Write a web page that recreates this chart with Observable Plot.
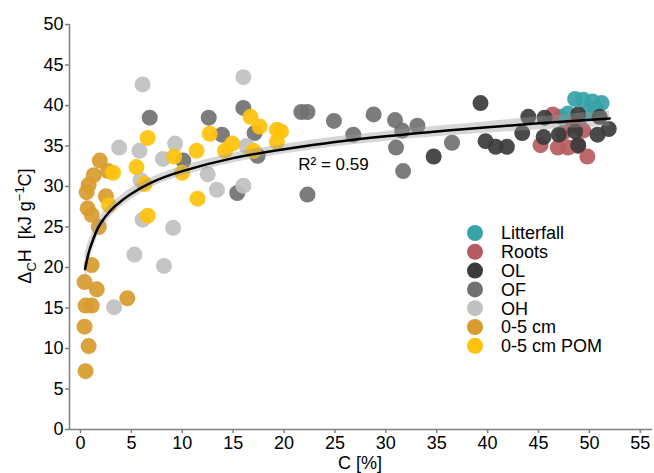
<!DOCTYPE html>
<html><head><meta charset="utf-8">
<script src="https://cdn.jsdelivr.net/npm/d3@7"></script>
<script src="https://cdn.jsdelivr.net/npm/@observablehq/plot@0.6"></script>
<style>body{margin:0;background:#fff;font-family:"Liberation Sans",Arial,sans-serif}</style>
</head><body><div id="chart"></div>
<script>
const groups = ["Litterfall","Roots","OL","OF","OH","0-5 cm","0-5 cm POM"];
const colors = ["#36A3A8","#B65B61","#3B3B3B","#717171","#C0C0C0","#D89B2E","#FFC20A"];

const litterfallC = [48.6, 49.4, 50.3, 51.2, 50.6, 47.9, 47.2, 48.3, 49.8, 48.9];
const litterfallH = [40.8, 40.7, 40.5, 40.3, 39.6, 39.0, 38.6, 38.0, 39.1, 37.9];
const rootsC = [45.2, 46.4, 46.9, 47.9, 47.4, 49.4, 49.8, 48.9, 48.5];
const rootsH = [35.1, 38.9, 34.8, 34.8, 36.6, 36.9, 33.7, 35.0, 37.6];
const olC = [39.3, 39.8, 40.8, 41.9, 34.7, 43.4, 44.0, 45.6, 45.5, 47.0, 48.9, 48.6, 48.9, 50.8, 51.0, 51.9];
const olH = [40.3, 35.6, 34.9, 34.9, 33.7, 36.6, 38.6, 38.5, 36.1, 36.4, 38.9, 36.8, 35.1, 36.4, 38.6, 37.1];
const ofC = [6.8, 12.6, 10.1, 13.9, 16.0, 17.1, 17.4, 15.4, 21.7, 22.3, 24.9, 22.3, 26.8, 28.8, 30.9, 31.6, 33.1, 31.0, 31.7, 36.5];
const ofH = [38.5, 38.5, 33.2, 36.4, 39.7, 36.6, 33.8, 29.2, 39.2, 39.2, 38.1, 29.0, 36.4, 38.9, 38.2, 36.9, 37.5, 34.8, 31.9, 35.4];
const ohC = [6.1, 3.8, 5.8, 8.1, 9.3, 5.9, 12.5, 13.4, 6.1, 9.1, 5.3, 8.2, 3.3, 16.0, 16.0, 16.3];
const ohH = [42.6, 34.8, 34.4, 33.4, 35.3, 30.8, 31.5, 29.6, 25.9, 24.9, 21.6, 20.2, 15.1, 43.5, 30.1, 35.0];
const soilC = [0.5, 0.8, 0.4, 0.5, 1.1, 1.6, 0.4, 1.1, 4.6, 1.8, 0.7, 1.1, 0.6, 0.8, 1.3, 1.9, 2.5, 2.7];
const soilH = [7.2, 10.3, 12.7, 15.3, 15.3, 17.3, 18.2, 20.3, 16.2, 25.0, 27.3, 26.5, 29.3, 30.2, 31.4, 33.2, 28.8, 31.9];
const pomC = [2.8, 3.2, 5.5, 6.3, 6.6, 6.6, 9.2, 10.0, 11.4, 11.5, 12.7, 14.2, 14.9, 16.7, 17.6, 17.0, 19.3, 19.7, 19.3];
const pomH = [27.7, 31.7, 32.4, 30.3, 36.0, 26.4, 33.7, 31.7, 34.4, 28.5, 36.5, 34.4, 35.3, 38.6, 37.4, 34.4, 37.0, 36.8, 35.5];

// fitted curve
const fitC  = [0.45, 0.7, 1, 1.5, 2, 3, 4, 5, 7, 10, 15, 20, 25, 30, 35, 40, 45, 52];
const fitH  = [19.8, 21.3, 22.6, 24.3, 25.5, 27.1, 28.2, 29.1, 30.5, 31.9, 33.5, 34.6, 35.5, 36.2, 36.8, 37.3, 37.8, 38.4];
const fitSE = [2.0, 1.5, 1.2, 1.0, 0.9, 0.8, 0.7, 0.7, 0.6, 0.6, 0.6, 0.6, 0.6, 0.6, 0.65, 0.7, 0.8, 0.95];

const xTicks = [0,5,10,15,20,25,30,35,40,45,50,55];
const yTicks = [0,5,10,15,20,25,30,35,40,45,50];
const r2Label = ["R\u00B2 = 0.59"];

const seriesC = [litterfallC, rootsC, olC, ofC, ohC, soilC, pomC];
const seriesH = [litterfallH, rootsH, olH, ofH, ohH, soilH, pomH];
const rows = [];
groups.forEach((g, i) => seriesC[i].forEach((c, j) => rows.push({group: g, c, h: seriesH[i][j]})));
const fit = fitC.map((x, i) => ({x, y: fitH[i], lo: fitH[i] - fitSE[i], hi: fitH[i] + fitSE[i]}));

const xMin = -1.08;
const chart = Plot.plot({
  width: 654, height: 473,
  marginLeft: 69, marginRight: 2, marginTop: 24, marginBottom: 44,
  style: {fontFamily: "Liberation Sans, Arial, sans-serif", fontSize: "18px", color: "black", background: "white"},
  x: {domain: [xMin, 56.2], label: null},
  y: {domain: [0, 50], label: null},
  color: {domain: groups, range: colors},
  marks: [
    Plot.dot(rows, {x: "c", y: "h", fill: "group", r: 8, fillOpacity: 0.92}),
    Plot.areaY(fit, {x: "x", y1: "lo", y2: "hi", fill: "#999", fillOpacity: 0.4, curve: "natural"}),
    Plot.line(fit, {x: "x", y: "y", stroke: "black", strokeWidth: 2.5, curve: "natural"}),
    Plot.ruleX([xMin], {stroke: "#808080", strokeWidth: 1.5}),
    Plot.ruleY([0], {stroke: "#808080", strokeWidth: 1.5}),
    Plot.axisX({ticks: xTicks, tickSize: 4, tickPadding: 3, stroke: "#808080", strokeWidth: 1.5, label: null, fontSize: 18}),
    Plot.axisY({ticks: yTicks, tickSize: 4, tickPadding: 2, stroke: "#808080", strokeWidth: 1.5, label: null, fontSize: 18}),
    Plot.text(r2Label, {x: 21.4, y: 32.7, text: d => d, textAnchor: "start", fontSize: 17})
  ]
});
document.getElementById("chart").appendChild(chart);

const svg = d3.select(chart);
// y axis label
const yl = svg.append("text").attr("transform", "translate(31,226) rotate(-90)")
  .attr("text-anchor", "middle").attr("font-size", 18).attr("fill", "black");
yl.append("tspan").text("\u0394");
yl.append("tspan").attr("font-size", 13).attr("dy", 5).text("C");
yl.append("tspan").attr("dy", -5).text("H  [kJ g");
yl.append("tspan").attr("font-size", 13).attr("dy", -7).text("\u22121");
yl.append("tspan").attr("dy", 7).text("C]");
// x axis label
svg.append("text").attr("x", 360).attr("y", 469).attr("text-anchor", "middle")
  .attr("font-size", 18).attr("fill", "black").text("C [%]");
// legend
const lg = svg.append("g").attr("text-anchor", "start");
groups.forEach((g, i) => {
  const cy = 233 + i * 18.8;
  lg.append("circle").attr("cx", 475).attr("cy", cy).attr("r", 8).attr("fill", colors[i]);
  lg.append("text").attr("x", 501).attr("y", cy).attr("dy", "0.36em").attr("font-size", 18)
    .attr("text-anchor", "start").attr("fill", "black").text(g);
});
</script>
</body></html>
